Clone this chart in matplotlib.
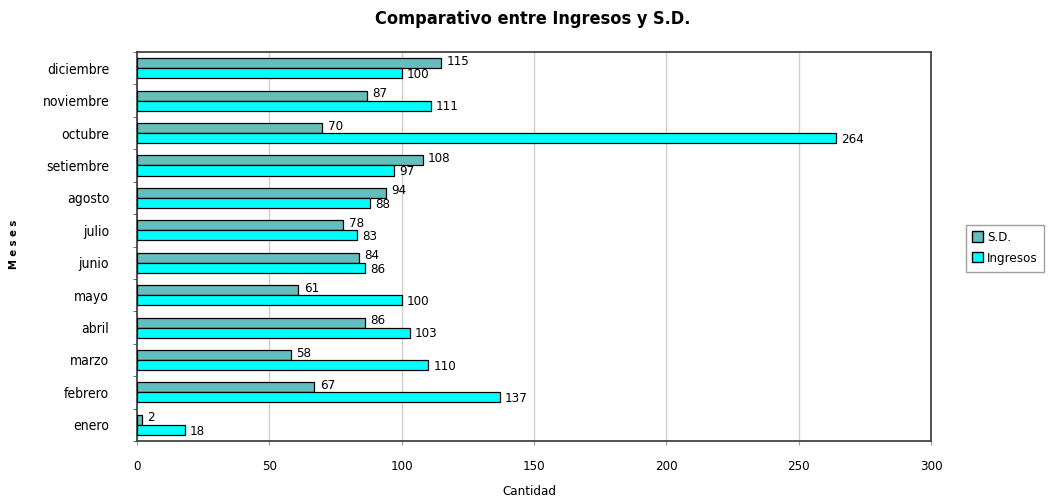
import numpy as np
import matplotlib
matplotlib.use('Agg')
import matplotlib.pyplot as plt
from matplotlib.patches import Patch

plt.rcParams['font.family'] = ['DejaVu Sans']
plt.rcParams['font.stretch'] = 'condensed'

# data
meses = ['enero', 'febrero', 'marzo', 'abril', 'mayo', 'junio', 'julio',
         'agosto', 'setiembre', 'octubre', 'noviembre', 'diciembre']
sd = [2, 67, 58, 86, 61, 84, 78, 94, 108, 70, 87, 115]
ingresos = [18, 137, 110, 103, 100, 86, 83, 88, 97, 264, 111, 100]

col_sd = '#66bdbd'
col_ing = '#00ffff'

fig = plt.figure(figsize=(10.5, 4.99), dpi=100)
ax = fig.add_axes([0.1305, 0.1162, 0.7562, 0.7796])

y = np.arange(len(meses))
h = 0.31
ax.barh(y + h / 2, sd, height=h, color=col_sd, edgecolor='black', linewidth=0.9, zorder=3)
ax.barh(y - h / 2, ingresos, height=h, color=col_ing, edgecolor='black', linewidth=0.9, zorder=3)

# value labels next to each bar
for yy, v in zip(y, sd):
    ax.text(v + 2, yy + h / 2 + 0.06, str(v), va='center', ha='left', fontsize=9.5)
for yy, v in zip(y, ingresos):
    ax.text(v + 2, yy - h / 2 - 0.04, str(v), va='center', ha='left', fontsize=9.5)

ax.set_xlim(0, 300)
ax.set_ylim(-0.5, len(meses) - 0.5)
ax.set_xticks([0, 50, 100, 150, 200, 250, 300])
ax.set_yticks(y)
ax.set_yticklabels(meses, fontsize=10)
ax.set_yticks(np.arange(-0.5, len(meses)), minor=True)
ax.tick_params(axis='y', which='major', length=0, pad=20)
ax.tick_params(axis='y', which='minor', length=3, color='#555555')
ax.tick_params(axis='x', length=3, pad=11, labelsize=9.5, color='#999999')

ax.grid(axis='x', color='#d0d0d0', linewidth=1, zorder=0)
for s in ax.spines.values():
    s.set_color('#444444')
    s.set_linewidth(1.3)

fig.text(0.507, 0.962, 'Comparativo entre Ingresos y S.D.', ha='center', va='center',
         fontsize=13, fontweight='bold')
fig.text(0.504, 0.016, 'Cantidad', ha='center', va='center', fontsize=9.5)
fig.text(0.013, 0.51, 'M e s e s', ha='center', va='center', rotation=90,
         fontsize=8, fontweight='bold')

handles = [Patch(facecolor=col_sd, edgecolor='black', label='S.D.'),
           Patch(facecolor=col_ing, edgecolor='black', label='Ingresos')]
leg = fig.legend(handles=handles, loc='upper left', bbox_to_anchor=(0.916, 0.558),
                 fontsize=9.5, frameon=True, fancybox=False, handlelength=0.8,
                 handleheight=0.8, handletextpad=0.3, borderpad=0.5, labelspacing=0.6,
                 borderaxespad=0.3)
leg.get_frame().set_edgecolor('#888888')
leg.get_frame().set_linewidth(1)

fig.savefig('out.png', dpi=100)
